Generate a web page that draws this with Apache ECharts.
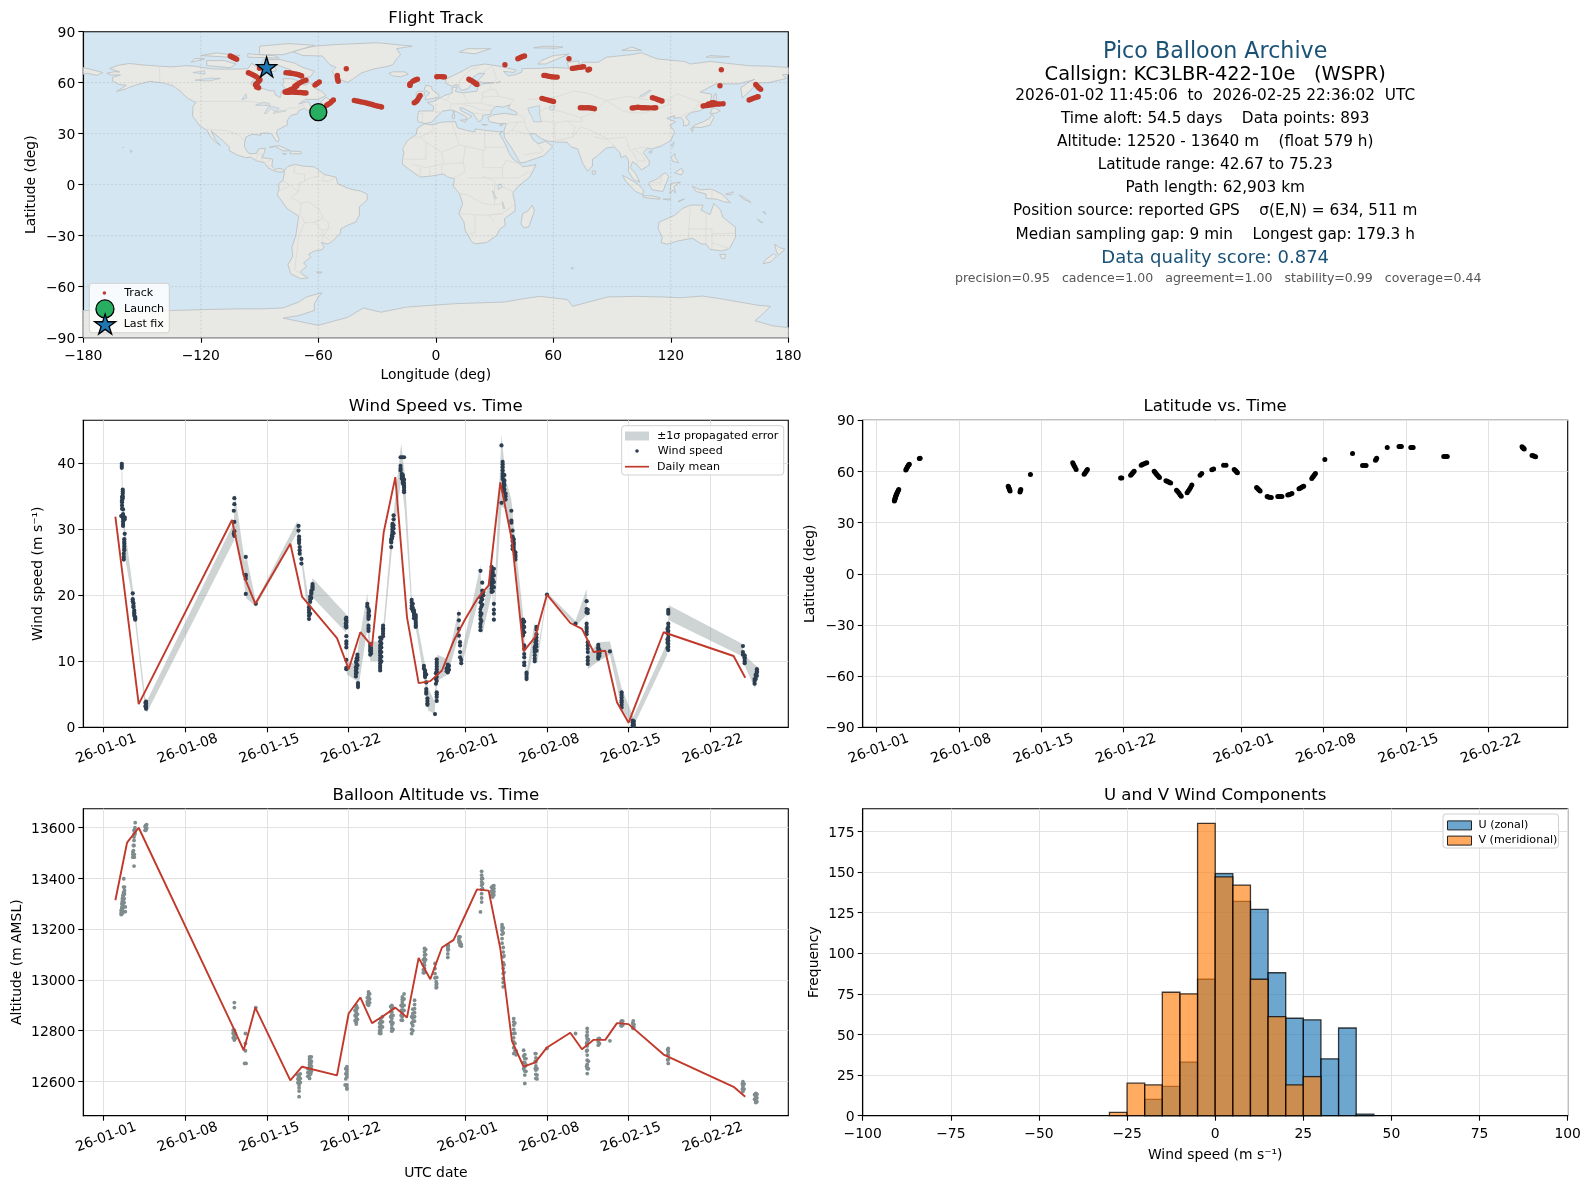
<!DOCTYPE html>
<html><head><meta charset="utf-8">
<script src="https://cdn.jsdelivr.net/npm/echarts@6/dist/echarts.min.js"></script>
<style>html,body{margin:0;padding:0;background:#fff}#c{width:1590px;height:1189px}</style>
</head><body><div id="c"></div>
<script>
const dayTicks=[0,7,14,21,31,38,45,52];
const dayTickLabels=['26-01-01','26-01-08','26-01-15','26-01-22','26-02-01','26-02-08','26-02-15','26-02-22'];
const meanDays=[1,2,3,11,12,13,16,17,20,21,22,23,24,25,26,27,28,29,30,31,32,33,34,35,36,37,38,40,41,42,43,44,45,48,54,55];
const windMean=[31.9,17.7,3.5,31.4,23,18.7,27.8,19.8,13.5,8.8,14.4,12.3,29.5,37.9,16.7,6.7,7,8.6,13.1,16.4,19.4,21.5,37.1,28.3,11.5,13.7,20.1,15.8,14.9,11.4,11.6,3.8,0.7,14.4,10.8,7.5];
const altMean=[13314,13541,13600,12823,12723,12891,12604,12658,12624,12868,12931,12830,12859,12891,12852,13087,13003,13128,13158,13257,13357,13352,13124,12759,12658,12675,12734,12792,12727,12764,12764,12830,12826,12706,12579,12540];
// each row: day, then values seen at that time
const windRows=[
[1.55,39.9,39.6,39.3],[1.63,36,35.7,35.4,35,34.7],[1.57,34.9,34.4,34.1,33.6,33.1],[1.5,32],[1.66,33,32.3,32,31.6,31.2,30.8,30.5],[1.8,31.8,31.5,29.3],[1.76,28.5,28.1,27.8,27.4,27,26.8],[1.72,26.3,25.8,25.4],
[2.49,20.3,19.4,19.1],[2.55,18.8,18.4,18.2],[2.62,17.7,17.4,17.2,16.9],[2.7,16.7,16.5,16.3],[3.63,3.9,3.6,3.3,3,2.8],[3.58,3.7,3.2],
[11.2,34.7,33.8,31.1,29.7,29],[11.15,32.8,29.3],[12.18,25.8,23.1,22.9,22.5,20.2],[13.04,18.7],
[16.7,30.5,29.8],[16.75,28.9,28.5,28.2,27.9],[16.8,27.3,26.8,26.3],[16.95,25.5,24.8],
[17.6,18.2,17.8,17.4,16.9,16.4],[17.7,19.8,19.4,19,17.2],[17.8,20.7,20.4,20.2,19.6],[17.9,21.7,21.4,21.2,20.9],
[20.8,16.6,16.2,15.9,15.4,15.1,13.8,13,12.6,12.1,10.2,9,8.8],[20.75,16.4,15.7,15.3],
[21.62,9.9,9.1,8.6,8.1,7.7],[21.68,10.4,9.6,8.9,8.3],[21.75,11,10.6,10.2,9.4],[21.8,6.7,6.4,6.1],
[22.6,18.7,18.3],[22.7,17.9,17.4,17,16.7,16.4,15.4,15,14.6],[22.75,17.6,16.9],[22.85,12.6,12.3,12,11.7,11.5,11],[22.92,12,11.6,11.2],
[23.7,13.6,13,12.4,12,11.6,11.3,10.9,10.5,10.1,9.7,9.3,9,8.6],[23.8,13.4,12.7,12.1,11.4,10.7,10],[23.95,15.4,15,14.9,14.6,14.2,13.8],
[24.85,32.1,31.5],[24.75,30.8,30.4,30,29.6,29.3,28.9],[24.85,30.6,30.1,29.4],[24.65,28.5,28.2,28,27.3],[24.7,29,28.6],
[25.45,40.9,39.6,39.2,38.9],[25.75,40.9],[25.6,40.9],[25.55,38.4,38.1,37.7],[25.65,37.9,37.6,37.4,37.1,36.9,38.2],[25.75,36.6,36.3,35.9,35.6,37.5,37],
[26.4,19.3,18.9,18.4,18],[26.5,18.7,18.1,17.6],[26.6,17.7,17.4,17.2,16.9,16.5],[26.75,16.4,16,15.7,15.4,15.2,17,16.7],
[27.45,9.3,8.9],[27.55,8.6,8.3,8.1,7.8,7.6],[27.65,6.8,5.8,5.4,5.1,8],[27.75,4.4,4,3.6,3.4],
[28.4,2],[28.55,10.3,9.9,9.6,9.2,8.8,8.4,8.1,7.6,7,5.3,5,4.6,4],[28.48,8.2,7.3,6.6],
[29.5,9.5,9.2,8.8,8.6,8.3],[29.6,9.3,8.7],[29.4,8.9,8.5],
[30.45,17.2,16.2,14.9,13.9],[30.55,12.9,12.4,11.4,10.6],[30.65,10.2,9.7],
[32.3,23.7,19.7,18.9,17.9,16.9,15.7,14.7,16.4,17.4,15.2],[32.45,21.9,20.7,20.2,19.4,18.6],[32.38,19.9,19.2,18.3,17.2,16.1],[32.55,20.5,20],
[33.25,24.3,23.7,23.3,23,22.6,22.2,21.8,21.5,21,20.5],[33.45,24,23,22,21.2,18.7,17.8,17.2,16.3],[33.35,23.5,22.4,21.4,20.6],
[34.1,42.7,34],[34.2,40.2,39.8,39.4,38.9,38.4,38,37.6],[34.3,37.2,36.9,36.5,36.1,35.7],[34.45,35.4,35,34.5],[34.35,38.2,37.4,36.7,36],
[34.95,32.8,31.3,31],[35.05,29.8,28.9],[35.15,28.5,28,27.7,27.3,26.9],[35.3,26.5,26.1,25.8,25.4],[35.05,28.7,28.2,27.5,27],
[35.95,16.3,15.9,15.4,15,14.6,14.2,13.9],[36.05,16,15.2,14.4,12.4,11.9,11.1,10.6,9.8,9.4],[36.25,8.3,8,7.6,7.3],
[36.95,12.1,11.8,11.4,10.9,10.4,10],[37.1,15.2,14.8,14.1,13.6,13.1,12.6,12.2,11.6],[37.02,13.4,12.9,12.4],
[38,20.1],[40.45,15.7],
[41.4,19.1,17.9,17.5,17.4,15.7,15.2,14.9,14.5,14.1],[41.5,17.8,17.3,12.9,12.4,11.9,11.4,10.6,10.1,9.6],
[42.4,12.5,12.1,11.9,11.5,11.1,10.7,10.4],[42.5,11.7,11.2,10.8],[43.4,11.5],
[44.4,5.3,4.9,4.5,4.1,3.8,3.4,3],[45.35,1,.7,.3],[45.45,.9,.5,.2],
[48.4,17.8,17.5,17.2,15.7,15.2,14.6,14.1,13.6,13.1,12.6,12.2,11.7],[48.33,14.9,14.3,13.3,12.8,12],
[54.8,12.3,11.4,11],[54.95,10.9,10.6,10.4,10,9.7],
[55.8,6.6,7,7.3],[55.9,7.8,7.3,8],[56,8.8,8.5,8.3,7.8],
];
// each row: day, then altitudes seen at that time
const altRows=[
[1.72,13399],[1.78,13366,13353,13340],[1.7,13366,13345,13334],[1.65,13334,13325,13315,13305,13295,13285],[1.6,13320,13310,13300,13290,13280,13270,13262],[1.5,13275,13265,13258],[1.55,13300,13285,13270],[1.85,13288,13269],[1.75,13320,13305],
[2.7,13620],[2.68,13600,13590,13583,13575],[2.6,13590,13575,13563,13550,13530],[2.5,13504,13495,13484],[2.55,13530,13510],[2.62,13495,13484],[2.6,13449],
[3.55,13605,13590],[3.6,13609,13600,13590],[3.68,13612,13598],
[11.2,12911,12891],[11.1,12802,12790,12772],[11.2,12802,12782,12763],[11.28,12790,12770],[12.15,12789,12750,12721],[12.08,12671],[12.2,12671],[13.04,12891],
[16.65,12625,12610,12595],[16.75,12625,12615,12605,12595,12586,12575,12562,12540],[16.85,12630,12612,12596],
[17.5,12650,12635,12620],[17.65,12697,12687,12677,12667,12658,12648,12638,12625,12612],[17.8,12697,12680,12660,12640],[17.75,12672,12650,12630],
[20.75,12650,12630,12610],[20.85,12658,12648,12638,12628,12618,12586,12575,12570],[20.7,12586],
[21.55,12880,12860,12840],[21.65,12900,12890,12881,12870,12861,12851,12841,12833,12826],[21.75,12890,12865,12845],
[22.6,12930,12915,12905],[22.7,12953,12943,12933,12925,12916,12908,12900],[22.8,12945,12925,12910],
[23.65,12830,12815,12800,12790],[23.75,12848,12838,12828,12818,12809,12799,12789],[23.9,12855,12835,12815],
[24.6,12895,12875,12855,12835],[24.7,12900,12887,12874,12861,12848,12835,12822,12810,12798],[24.8,12890,12860,12830,12805],
[25.5,12900,12880,12860,12842],[25.6,12933,12923,12914,12904,12894,12881,12868,12855,12841],[25.75,12945,12925,12900,12880],
[26.4,12855,12830,12805,12789],[26.5,12885,12868,12850,12835,12820,12800],[26.65,12920,12903,12887,12871,12855,12838],
[27.4,13080,13060,13040,13028],[27.5,13124,13111,13098,13085,13071,13058,13045,13029],[27.6,13120,13100,13080],
[28.4,13065,13045,13025,13008],[28.5,12993,12980,12969],[28.55,13010,12985,12972],
[29.5,13137,13127,13118,13103,13089],[29.55,13135,13120],[30.45,13170,13160,13150],[30.55,13170,13150,13143,13137],[30.65,13140,13133],
[32.3,13268],[32.4,13428,13413,13399,13386,13373,13357,13340,13323,13307],[32.48,13400,13380,13360],
[33.25,13365,13350,13335],[33.35,13370,13362,13353,13346,13340,13333,13327],[33.45,13372,13360,13348,13335],
[34.15,13218,13207,13196,13180,13163,13145],[34.25,13205,13185,13128,13110,13091,13068,13045,13025,13006,12990,12973],[34.32,13095,13060,13030],
[35.15,12848,12835,12822,12805,12789,12772,12756,12733,12710],[35.25,12830,12790,12750,12720],[35.35,12720,12705],
[36,12723,12700,12675,12650],[36.1,12706,12690,12674,12658,12641,12625,12592],[36.2,12690,12665,12640],
[37,12710,12680,12650],[37.05,12710,12693,12677,12661,12645,12628,12612],[37.15,12650,12625,12610],
[38,12730],[40.45,12789],[41.4,12780,12750,12720,12660],[41.45,12809,12795,12782,12769,12756,12740,12723,12704,12684,12667,12651,12631],[41.55,12765,12680,12650],[42.4,12769,12756,12743],[42.5,12770,12750],[43.4,12760],
[44.35,12835,12820],[44.4,12839,12829,12819],[44.5,12838,12822],[45.35,12830,12812],[45.4,12839,12824,12809],[45.45,12825,12815],[48.35,12725,12705,12685],[48.4,12730,12717,12704,12687,12671],[54.75,12590,12570],[54.8,12599,12589,12579,12569,12560],[54.9,12590,12570],[55.8,12548,12530],[55.9,12553,12543,12533,12525,12517],[56,12550,12535,12520],
];
// day, low, high of the error band
const bandRows=[[1.5,31,35],[1.55,38.3,41.4],[1.62,33,36.6],[1.8,26,30.5],[2.5,19,21],[2.7,15.8,17.6],[3.55,2.8,4.6],[3.7,2.2,4],[11.15,28.2,31],[11.25,30,35.4],[12.1,21,25],[12.2,19.6,26.2],[13.04,18.3,19.1],[16.6,29.5,31.2],[17,24.2,26],[17.6,15.7,19],[17.9,19.7,22.6],[20.75,14.4,17.2],[20.85,8,10],[21.7,7,9.5],[21.8,5.5,12],[22.6,15,20.3],[22.85,10,13],[23.7,10,13],[24,13.5,16],[24.7,26.8,30],[25.5,37.5,43],[25.8,33,38.5],[26.4,17.5,20],[26.8,14.5,16.5],[27.5,7,10],[27.8,2.6,6],[28.35,2,4],[28.6,7,11],[29.5,8,10.3],[30.45,14,18],[30.65,9,11],[32.3,20.5,24.6],[32.45,14,17],[33.3,20.5,25.3],[33.45,15.5,18],[34.1,33.5,44.3],[34.5,33,37.3],[34.95,28.2,34.5],[35.3,24.5,27.8],[35.95,13,17.2],[36.25,6.8,8.3],[36.95,12.5,16],[37.15,9.5,11],[38,19.9,20.4],[40.45,15.3,16.1],[41.4,17,21],[41.5,8.8,11],[42.4,10,12.9],[43.4,11,13],[44.4,2.8,6],[45.4,0.1,1.6],[48.3,10.9,12.8],[48.45,16.2,18.5],[54.7,10.8,12.7],[54.9,9.5,11],[55.8,6,9.5],[56,6.5,9.3]];
const latPoints=[[1.53,42.7],[1.56,43.3],[1.58,43.8],[1.6,44.4],[1.62,44.9],[1.65,45.5],[1.68,46],[1.7,46.5],[1.73,47],[1.77,47.5],[1.8,48],[1.85,48.7],[1.9,49.4],[2.5,60.8],[2.55,61.5],[2.6,62.2],[2.65,62.8],[2.7,63.4],[2.75,63.9],[2.8,64.3],[3.65,67.6],[3.72,67.7],[11.2,51.4],[11.24,50.7],[11.28,50],[11.32,49.3],[11.36,48.6],[12.2,48],[12.23,48.7],[12.27,49.4],[13.09,58.2],[16.68,65.1],[16.74,64.3],[16.8,63.4],[16.88,62.4],[16.97,61.2],[17.65,58.4],[17.72,59],[17.8,59.8],[17.87,60.5],[17.93,61.2],[20.75,56.1],[20.85,56.2],[21.6,57.8],[21.68,58.4],[21.75,59],[21.82,59.6],[21.9,60.2],[22.5,63.7],[22.6,64.1],[22.7,64.4],[22.85,64.8],[22.97,65.1],[23.6,60.2],[23.68,59.5],[23.75,58.8],[23.82,58.2],[23.9,57.6],[23.98,57],[24.05,56.5],[24.6,54.5],[24.7,54.2],[24.8,54],[24.9,53.6],[25,53.3],[25.5,49],[25.6,48.2],[25.7,47.4],[25.8,46.4],[25.9,45.5],[26.4,47.5],[26.5,48.5],[26.6,49.6],[26.7,50.8],[26.8,52],[27.5,57.8],[27.64,58.8],[28.5,61],[28.65,61.4],[29.5,63.7],[29.7,63.7],[30.4,61.2],[30.48,60.7],[30.55,60.2],[30.62,59.7],[30.67,59.2],[32.3,50.6],[32.38,50.1],[32.45,49.6],[32.52,49.1],[32.6,48.6],[33.2,45.3],[33.3,45.1],[33.4,44.9],[33.55,44.8],[34.1,45.3],[34.2,45.3],[34.3,45.3],[34.45,45.3],[34.95,46.2],[35.05,46.4],[35.15,46.7],[35.3,47.1],[35.9,49.8],[36,50.2],[36.1,50.6],[36.2,51],[36.3,51.4],[36.99,55.9],[37.07,56.7],[37.15,57.4],[37.22,58.1],[37.3,58.8],[38.1,67],[40.45,70.6],[41.3,63.5],[41.45,63.5],[41.6,63.5],[42.4,66.6],[42.45,67],[42.5,67.8],[43.4,74.1],[44.4,74.7],[44.5,74.7],[44.6,74.7],[45.4,74.1],[45.5,74.1],[45.6,74.1],[48.2,68.8],[48.35,68.8],[48.5,68.8],[54.85,74.5],[54.9,74.1],[54.95,73.8],[55,73.4],[55.03,73.1],[55.7,69.4],[55.8,69.2],[55.9,68.9],[56,68.6]];
const trackPoints=[[-105,75.7],[-104.4,75.4],[-103.8,75],[-103.2,74.7],[-102.5,74.3],[-101.7,73.8],
[-95.7,65.9],[-95,65.5],[-94,65],[-93,64.4],[-92,63.8],[-91,63],[-90,62],[-89.8,61.6],[-90.4,60.8],[-91,60],[-91.5,59.5],[-92,59],[-91.8,58.5],[-91.6,58],[-91.5,57.5],[-90.5,57],
[-90,68.5],[-88,68.8],[-86.4,69.2],
[-76.5,65.9],[-75.5,65.8],[-74.5,65.7],[-74,65.6],[-73,65.4],[-72,65.2],[-71,65],[-70,64.7],[-69,64.3],[-68.5,64],
[-72,58],[-71,58.8],[-70,59.5],[-69,60.2],[-68,60.8],[-67,61.2],[-66.3,61.5],
[-77,54.5],[-76,55],[-75,55.5],[-74,56],[-73,56.5],[-72,57.2],[-71,58],[-76,54.3],[-75,54.4],[-74,54.5],[-73,54.5],[-72,54.4],[-71,54.3],[-70,54.2],[-69,54.2],[-68,54.1],[-67,54],[-66.3,54],[-75,54.9],[-73.5,55],[-72,55],
[-61.7,58.6],[-61,59.2],[-60.5,59.6],[-59.5,60.4],
[-55.7,46.7],[-55,47.3],[-54,48],[-53.2,48.9],[-52.3,49.8],
[-41.6,49.6],[-40.5,49.3],[-39.5,49.1],[-38.5,48.8],[-37.5,48.6],[-36.5,48.4],[-35.5,48.1],[-34.5,47.8],[-33.5,47.5],[-32.5,47.2],[-31.5,46.8],[-30.5,46.5],[-29.5,46.2],[-28.5,46],[-27.7,45.7],
[-50.3,64.3],[-50.3,63.5],[-50.2,62.5],[-50,61.6],[-49.8,60.8],
[-45.7,68.2],
[-13.2,58.4],[-13.3,59],[-13,59.5],[-11.8,60.8],[-11,61.3],[-10.2,61.7],[-9.4,62],
[-11,48.2],[-10.2,48.8],[-9.5,49.5],[-9,50.5],[-8.5,51.5],[-8,52.5],
[0.5,63.5],[1.5,63.6],[2.5,63.6],[3.5,63.5],[4.4,63.4],
[16.9,62],[17.7,61.5],[18.5,61],[19.3,60.4],[20,59.8],[20.5,59.4],[21,59],
[35.3,70.6],
[41.9,74.1],[42.7,74.6],[43.5,75],[44.4,75.4],[45.3,75.7],
[55.2,64.3],[56,64.2],[57,64],[58,63.7],[59,63.5],[60,63.4],[61,63.3],[62,63.3],
[54.2,50.8],[55,50.5],[56,50.2],[57,49.9],[58,49.6],[59,49.3],[60.1,49],
[68,74.1],
[69.7,68.4],[70.6,68.6],[71.5,68.7],[72.5,68.9],[73.5,69],[74.5,69.2],[75.5,69.4],
[77.7,67.5],[78.2,67.8],[78.5,68],
[73.8,45.3],[75,45.3],[76,45.2],[77,45.3],[78,45.3],[79,45.1],[80,45],[81,44.7],
[100.3,45.1],[101.5,45.3],[103,45.6],[104,45.5],[105,45.3],[106,45.3],[107,45.3],[108,45.2],[109,45.2],[110.5,45.2],[111.5,45.2],[112.3,45.3],
[110.6,51.2],[111.5,50.9],[112.5,50.5],[113.3,50.1],[114,49.8],[115,49.4],[115.5,49.2],
[136.5,46.3],[137.5,46.5],[138.5,46.6],[139.5,46.8],[140.5,47],[141.3,47.1],[142,47.3],[143,47.4],[144,47.4],[145,47.5],[146.7,47.6],[139,47.3],[140,47.6],[141,48.2],[142,48.2],[143,47.8],
[145.8,67.6],
[145.1,58.2],
[160,49.8],[161,50.3],[162,50.8],[163,51.2],[164,51.6],[164.6,51.8],
[163.4,59],[163.9,58.3],[164.5,57.5],[165.2,56.8],[165.9,56.1]];
const launchPoint=[[-60,42.67]];
const lastFixPoint=[[-86.4,69.2]];
const histEdges=[-30,-25,-20,-15,-10,-5,0,5,10,15,20,25,30,35,40,45];
const uCounts=[0,0,10,18,33,84,149,132,127,88,60,59,35,54,1];
const vCounts=[2,20,19,76,75,180,147,142,84,61,19,24,0,0,0];
const landPolys=[
[[-168,65.6],[-164,66.5],[-161.5,66.3],[-163.5,67.2],[-166.5,68.4],[-162,70.3],[-156.5,71.3],[-150,70.5],[-141,69.7],[-135,69.3],[-128,70],[-124,69.8],[-115,68.2],[-108,68],[-102,68],[-96,68.2],[-94,71.5],[-92,69.7],[-88,68.7],[-85,69.7],[-82,69],[-81.5,67],[-86,66],[-88,64.2],[-92.5,62.5],[-94.5,59.5],[-92.5,57],[-88,56.5],[-85,55.3],[-82.3,55.2],[-82,52.9],[-79.5,51.3],[-79,52.5],[-79,54.7],[-76.7,56.5],[-78.5,58.8],[-77.5,60.5],[-78,62.4],[-73.5,62.3],[-70,61],[-69.5,58.8],[-66,58.8],[-64.5,60.3],[-61.5,56.5],[-58,54.8],[-56,52.5],[-60,50.2],[-66.5,50.2],[-70,47.5],[-65,49],[-64.5,47.5],[-64,46],[-61,45.5],[-65.5,43.6],[-67,45],[-70,43.7],[-70.6,41.7],[-74,40.7],[-75.5,38.5],[-76,36.9],[-75.6,35.3],[-78,33.9],[-81,32],[-81.4,30.5],[-80,26.8],[-80.5,25.2],[-81.8,26],[-82.8,28],[-84,30],[-86,30.4],[-89.5,30.2],[-89.3,29.1],[-93.8,29.7],[-97,28],[-97.6,25],[-97.8,22.4],[-95.9,18.8],[-94.5,18.2],[-91.5,18.5],[-90.5,21],[-87,21.5],[-87.7,18.5],[-88.7,15.9],[-83.3,15],[-83.7,11],[-82.2,9],[-79.5,9.6],[-77.3,8.5],[-78,7.5],[-80.3,7.5],[-83,8.3],[-85.7,10],[-87.6,13],[-91.5,14],[-94.5,16.2],[-97,15.9],[-101.5,17.5],[-105.5,20],[-105.3,22],[-108,25.2],[-112.5,29.5],[-114.7,31.7],[-112.5,26.5],[-110,23],[-112,24.7],[-115,28],[-116.8,32],[-120.5,34.5],[-122.5,37.7],[-124.2,40.3],[-124,46],[-122.5,48.3],[-127,51],[-130,54.5],[-134,58],[-139,59.8],[-146,60.8],[-151,59.3],[-153.5,58.5],[-158,56.5],[-163,54.8],[-158,58.5],[-162,59],[-165,61],[-165,63.2],[-161,64.5],[-166,64.6]],
[[-73,78.2],[-68,76],[-58,75.7],[-54,70.5],[-51,69],[-53,66.5],[-50.5,62.5],[-45,60.2],[-42.5,62],[-38,65.7],[-32,68],[-25,69.5],[-22,70.5],[-20,74],[-18,76.5],[-20,80],[-12,81.5],[-30,83.5],[-50,82.5],[-62,81.5],[-68,80]],
[[-80,73.7],[-72,71.5],[-68,69],[-62,66.8],[-64,63.5],[-68,62.7],[-72,64],[-78,65],[-74,67.5],[-80,70],[-89,71],[-88,73.5]],
[[-117,70],[-105,68.8],[-102,71],[-108,73],[-117,73]],[[-125,72],[-118,74],[-123,74.3]],[[-90,76.5],[-78,76.5],[-62,82],[-75,83],[-90,81.5]],[[-96,75],[-80,74.5],[-82,75.8],[-96,77]],[[-120,76],[-106,75],[-100,76],[-112,77.5]],
[[-59,47.7],[-53,46.7],[-53,49],[-56,51.5],[-58,49.5]],[[-24,65.5],[-22,64],[-18,63.5],[-14,65],[-16,66.4],[-22,66.4]],[[-85,22],[-80,23],[-74.3,20],[-78,19.9],[-82,22.5]],[[-74,19.8],[-69,19.5],[-68.5,18.3],[-74.3,18.1]],[[-78.3,18.4],[-76.3,18.1],[-77.5,17.8]],[[-159.8,22.2],[-159.3,21.9],[-159.6,21.8]],[[-156,20.2],[-155,19.6],[-155.8,19]],
[[-72,12],[-68,11],[-62,10.5],[-57,6],[-51,4.5],[-50,0.5],[-44,-2.5],[-38.5,-3.7],[-35,-5.5],[-35,-9],[-39,-13],[-39,-18],[-41,-22],[-45,-23.8],[-48.5,-26],[-48.7,-28.5],[-53,-33.5],[-55,-34.9],[-58.5,-34],[-57,-36.5],[-58,-38.3],[-62,-39],[-65,-41],[-63.8,-42.5],[-67.5,-46],[-66,-48],[-69,-51],[-68.3,-52.5],[-65.2,-54.8],[-69,-55.3],[-74,-52.5],[-75.5,-47],[-73,-42],[-73.5,-37],[-71.5,-30],[-70,-18.5],[-76,-14],[-81,-6],[-80,-2.5],[-80.3,0.5],[-78,2.5],[-77.3,7],[-77.3,8.5],[-75.5,10.7]],
[[-6,35.8],[-2,35.2],[3,36.8],[10,37.2],[11,33.5],[15.5,32],[20,31],[20,32.8],[25,32],[32,31.2],[34.3,31.3],[32.5,30],[35.5,24],[37.2,19],[39.5,15],[43.3,12],[44.5,10.5],[51.2,11.8],[48,4.5],[42,-1],[39.3,-5],[40.5,-11],[40.5,-15.5],[35,-20],[35.5,-24],[32.8,-26],[31,-30],[26,-34],[20,-34.8],[18.3,-33.5],[15,-27],[14.4,-22],[11.8,-17],[13.7,-11],[12,-5],[9,-1],[9.5,3.5],[6,4.5],[4,6.3],[-3,5],[-8,4.5],[-13,8.5],[-17,12],[-17,15],[-16.3,19],[-17,21],[-14.5,26],[-10,29.5],[-9.5,33]],
[[49.3,-12],[50.4,-15.5],[47.5,-24.7],[45,-25.5],[43.5,-23],[44.3,-17],[47,-15.5]],
[[-9,37],[-9.4,38.7],[-8.8,43.3],[-1.5,43.4],[-1,46],[-4.5,48.5],[-1.5,48.8],[2,51],[4.5,52.5],[8.5,54],[8.3,57],[10.8,57.5],[10,54.8],[14,54],[18.5,54.7],[21,55],[21.5,57.5],[24,59.3],[30,60],[24,60],[21.3,61],[25,65.5],[22,65.5],[17.5,62],[18.8,60],[16.5,56.5],[13,55.4],[11,59],[8,58],[5.3,59.5],[5,62],[13,66.5],[18,69.7],[25,71],[31,70],[41,67.5],[40,66],[34.5,66.7],[37,64],[40.5,64.7],[44,66.3],[44,68.3],[54,68.5],[60,69],[68,68.5],[67,72],[73,72.8],[73,68],[75,72],[83,72],[87,75],[100,76.5],[105,77.6],[113,74],[127,72.5],[130,71],[140,72.5],[160,70],[170,69.7],[180,68.9],[180,65],[177,64.7],[179,62.5],[170,60],[163.5,59.8],[162,57],[156.5,51],[155.7,57],[160,60.5],[163,62],[155,59.3],[143,59.3],[135,54.5],[141,53.2],[140,48],[135,43.5],[130.5,42.5],[127.5,39.8],[129.5,37],[129,35.2],[126.5,34.5],[126.5,37.5],[125,39.5],[121.5,39],[122,40.7],[118,39],[122.5,37],[119.5,35],[122,31],[120,26],[115,22.7],[110,21],[108,21.5],[106,19],[109,14],[109,11.5],[105,8.7],[102.5,12],[100.5,13.5],[99.3,10],[102,6.5],[104.2,1.5],[101,3],[98.3,8],[98.5,14],[97,17],[94.5,16],[94,19],[91,22.3],[87,21.5],[82,16.5],[80,15],[80,11],[77.5,8],[75,12.5],[73,19],[72.5,21],[69,22.3],[67,25],[61.5,25],[57,25.7],[54,27],[50.5,30],[48,30],[50,26],[51.5,25],[52,24],[56,25.5],[59.8,22.5],[55,17],[45,13],[43,13],[39,21],[35,28],[34.8,31.5],[36,36],[32,36],[27.5,37],[26.5,39.5],[29,41],[35,42],[41,41],[41.5,42.5],[37,45],[38,47],[34,45.5],[33,46],[30.5,46],[28.5,43.5],[28,41.5],[24,40.8],[23.5,38],[22,37],[19.5,41],[19,42],[14,45],[12.3,45.3],[13,43.5],[18.5,40.2],[16.5,39],[15.7,38],[15.5,40],[10.5,43],[8,44],[3.5,43.3],[0,39.5],[-2,36.8],[-5.5,36]],
[[-180,68.9],[-175,67.5],[-170,66],[-173,64.3],[-178,65.5],[-180,65]],
[[52,71],[56,71],[68,76.8],[60,76],[54,73]],[[12,78],[20,77],[28,80],[16,80]],[[50,80.5],[62,80.3],[65,81],[55,81.5]],[[95,79],[105,79],[100,81]],[[138,75],[146,75],[150,75.3],[140,76]],
[[-5.5,50],[1.5,51.3],[1.5,53],[-2,56],[-2,57.7],[-5,58.6],[-6,56],[-3,54],[-5,52]],[[-10,52],[-6,52.2],[-5.8,54.7],[-8.5,55.2],[-10,54]],[[12.5,38],[15.6,38.2],[15,36.7]],[[8.3,41],[9.7,41],[9.5,39],[8.5,39]],[[8.7,43],[9.5,43],[9.2,41.5]],[[23.5,35.5],[26.3,35.3],[24.8,34.9]],[[32.4,35],[34.5,35.6],[33.5,34.6]],
[[130.9,34],[135.5,33.6],[140,35],[142,39.5],[141,41.5],[139.8,39],[136.5,37],[132,35]],[[130,33],[131.5,33.7],[131,31.2]],[[140,42],[141.5,45.4],[145.3,43.5],[143,42]],[[142,46],[143.5,49],[143,54],[142,52]],[[120.2,23],[121.7,25.2],[120.9,22]],[[108.7,19.2],[110.5,20],[110,18.3]],
[[120.3,16],[122,18.5],[122.2,16],[124,13],[121,13.7]],[[122,7],[125.5,9.7],[126.5,7.5],[125.3,5.7]],[[79.8,8],[81.5,8],[81.5,6.3],[80,6]],[[95.3,5.6],[98,4],[103.5,0],[106,-3],[105.8,-5.9],[102,-4],[97,2]],[[105.5,-6.5],[110,-6.5],[114.5,-7.7],[114.4,-8.6],[106,-7.5]],[[109,1.5],[113,3.3],[117,7],[119,5],[117.7,1],[116,-4],[110.5,-3],[109,0]],[[119.5,-5.5],[120,0.7],[125,1.5],[121.5,-1],[122.5,-5],[121,-3]],[[131,-1],[135,-3],[141,-2.6],[146,-5.5],[150.5,-10.5],[147,-10],[143.5,-8.5],[138,-8],[138,-5.5],[133,-4]],[[116,-8.5],[120,-8.3],[119,-9]],[[124,-9.5],[127,-8.4],[124,-10.2]],[[148,-5.5],[152,-4.2],[151,-6]],[[155,-6],[158,-8],[160,-9.5],[161,-10.5],[157,-8.5]],
[[114,-22],[122,-18],[126,-14],[130,-12],[136.5,-12],[135.5,-15],[140,-17.5],[142,-11],[145.5,-15],[146.5,-19],[153,-25],[153,-31],[150,-37.5],[146,-39],[140,-38],[138,-35],[135.5,-34.8],[131,-31.5],[124,-33],[118,-35],[115,-34],[115.7,-31],[113.5,-26]],[[145,-41],[148,-41],[147.5,-43.5],[146,-43.5]],[[173,-35],[175.5,-37],[178.3,-38],[175,-41.5],[174,-39.5]],[[172.7,-40.5],[174,-42],[171,-45.5],[167,-46.5],[168.5,-44]],[[164,-20.2],[167,-22.3],[166,-22.3]],[[168,-16],[168.5,-17.5],[167,-16]],
[[-61,-51.3],[-58,-51.4],[-59.5,-52.3]],[[69,-48.7],[70.5,-49.2],[69.5,-49.6]],
[[-180,-74],[-150,-74.5],[-135,-74],[-120,-73.5],[-100,-73],[-88,-73],[-78,-72.5],[-70,-69],[-66,-66],[-58,-63.5],[-60,-66],[-62,-70],[-62,-74],[-70,-77],[-78,-78.5],[-60,-82.7],[-45,-78],[-37,-72.5],[-28,-75],[-15,-72],[-3,-71],[10,-70],[22,-69.5],[35,-69],[45,-67],[53,-65.7],[67,-67.5],[70,-71.5],[78,-69],[88,-66],[102,-65.7],[115,-66],[125,-66.5],[136,-65.5],[145,-67],[155,-69],[165,-71],[171,-71.5],[167,-76],[163,-80],[172,-83],[180,-84],[180,-90],[-180,-90]]
];
const lakePolys=[[[47,45],[53,46.5],[53,41],[54,37],[50,37],[49,40],[47.5,43]],[[-92,46.8],[-88,48.5],[-85,47.8],[-84.7,46.5],[-88,46.7]],[[-87.5,41.8],[-85.5,45.8],[-84,46],[-80,45],[-82,43],[-84,45],[-86.5,42]],[[-83,42],[-79,42.9],[-76.5,43.5],[-79.5,43.4],[-82.5,42.7]],[[-99,50],[-97,53.5],[-96.5,51]],[[-123,61.5],[-115,62.7],[-110,62.5],[-116,61]],[[-124,66],[-118,67],[-118,65]],[[31.8,-2.8],[34,-1.5],[33.5,.4],[31.8,0]],[[29,-3.5],[30,-8.5],[31,-8]],[[34,-10],[35.2,-14],[34.5,-14]],[[58,46],[61,46.5],[60,43.7],[58.5,44]],[[104,52],[109,55.5],[110,55.5],[106,52]],[[74,46.7],[78,46.5],[76,45.5]],[[31,60],[33,61],[32,59.8]]];
const borderLines=[
[[-123,49],[-95,49],[-89,48],[-84,46.5],[-82.5,42.5],[-79,43],[-75,45],[-71,45.2],[-67.5,47],[-67,45]],[[-141,69.7],[-141,60.3],[-135,59],[-130,55]],[[-117,32.5],[-106.5,31.8],[-101,29.5],[-97.5,25.9]],[[-92,14.5],[-91,18],[-88.5,18]],[[-89,18],[-89,14],[-87,13]],[[-83.5,15],[-87,13]],[[-85.7,11],[-83.7,11]],[[-83,8.3],[-82.5,9.5]],
[[-72,12],[-72.5,7],[-67,6],[-67,2],[-70,1],[-70,-4]],[[-60,8.3],[-60,5],[-64,4],[-67,2]],[[-57,6],[-58,2],[-54,2.3],[-51,4.5]],[[-78,2.5],[-75,0],[-70,-4],[-74,-7.5],[-69,-11],[-69,-16],[-70,-18.5]],[[-80,-3.5],[-75,-1]],[[-69,-11],[-65,-10],[-60,-14],[-58,-18],[-58,-20],[-62,-22],[-67,-22.5],[-69,-18]],[[-58,-20],[-55,-22],[-54.5,-25.5],[-58,-27],[-62,-22]],[[-54.5,-25.5],[-57.5,-30],[-53,-33.5]],[[-58,-27],[-58,-34]],[[-67,-22.5],[-70,-30],[-71,-40],[-72,-50],[-68.3,-52.5]],
[[-8,28],[-13,28],[-17,21]],[[-2,35],[-1,32],[-8,28],[-5,25],[3,19],[12,23.5],[10,30],[8,37]],[[12,23.5],[25,20],[25,32]],[[25,22],[36.8,22]],[[24,20],[24,10],[34,10],[34,4],[42,4],[48,8]],[[34,10],[36,14.5],[43,12]],[[3,19],[4,12],[14,13],[15,23]],[[14,13],[15,7.5],[9,4]],[[-12,12],[-5,10],[3,12]],[[-17,15],[-5,15],[-5,25]],[[-8,4.5],[-8,10]],[[-3,5],[-3,11]],[[3,6],[3,12]],[[16,4],[24,4],[34,4]],[[12,-5],[16,-6],[24,-11],[30,-12],[30,-4],[30,2],[24,5]],[[12,-17],[24,-18],[34,-17]],[[20,-18],[20,-28],[17,-29]],[[30,-22],[27,-18],[34,-17],[40.5,-11]],[[34,-1],[40,-4.5]],[[30,-12],[34,-11]],
[[-2,43.3],[3,42.5]],[[-9,42],[-6.5,42],[-7,37]],[[2,51],[6,49.5],[8,47.6],[7,44]],[[7,53.5],[6,50]],[[8,47.6],[13,47.5],[17,48],[23,48],[24,51.5],[23.5,54]],[[14,54],[15,51],[17,48]],[[14,47],[19,46],[22.5,44],[28.5,43.7]],[[19,42],[21,42],[26,41.5]],[[23,48],[30,46]],[[24,51.5],[32,52],[40,50],[38,47]],[[23.5,54],[28,56],[28,59.5]],[[32,52],[31,55.5],[28,56]],[[12,56],[12,61],[18,68],[22,69]],[[24,66],[29,70]],[[30,60],[31,63],[29,69.5]],
[[47,50],[60,51],[70,55],[77,54],[87,49.5]],[[87,49.5],[98,52],[108,50],[119,50],[123,53.5],[135,48.5],[131,43]],[[87,49.5],[96,43],[105,42],[112,44],[119,47],[119,50]],[[87,49.5],[80,42],[74,39.5],[75,37]],[[52,42],[56,45],[62,43.5],[70,41],[74,39.5]],[[54,37.5],[61,36.5],[67,37.5],[75,37]],[[61,36.5],[60.5,30],[61.5,25]],[[67,37.5],[71,34],[70,28],[62,26]],[[70,28],[74,34],[79,32],[88,27],[97,28],[98,24],[99,20],[101,21],[106,22],[108,21.5]],[[81,28],[88,26.5]],[[88,26],[92,22]],[[101,21],[105,18],[107,14],[103,14],[100,20]],[[103,14],[102.5,12]],[[48,30],[46,34],[44.8,39.5],[41.5,41.5]],[[36,36],[42,37],[44.8,37]],[[39,32],[48,29.5]],[[35,29.5],[39,32],[42,37]],[[52,24],[55,20],[52,18]],[[45,17.5],[52,19]],[[125,39.8],[128,42],[130.5,42.5]],
[[130,-11.5],[129,-31.5]],[[138,-16],[138,-35]],[[129,-26],[141,-26],[141,-38]],[[141,-29],[153,-28.5]],[[141,-34],[150,-37.5]],[[141,-2.6],[141,-9]],[[115,7],[115,1],[109,1.5]]
];
const titleFont='"DejaVu Sans"';
const gridBoxes=[
{left:83.3,top:31.7,width:705,height:306},{left:83.3,top:420.3,width:705,height:307},{left:862.7,top:420.3,width:705,height:307},
{left:83.3,top:808.7,width:705,height:307},{left:862.7,top:808.7,width:705,height:307}];
const infoLines=[
['Pico Balloon Archive',52.5,22.2,'#1a5276',1215.2],['Callsign: KC3LBR-422-10e   (WSPR)',75,19.4,'#000',1215.2],['2026-01-02 11:45:06  to  2026-02-25 22:36:02  UTC',96.5,15.3,'#000',1215.2],['Time aloft: 54.5 days    Data points: 893',119.5,15.3,'#000',1215.2],['Altitude: 12520 - 13640 m    (float 579 h)',142.5,15.3,'#000',1215.2],['Latitude range: 42.67 to 75.23',165.5,15.3,'#000',1215.2],['Path length: 62,903 km',188.5,15.3,'#000',1215.2],['Position source: reported GPS    \u03c3(E,N) = 634, 511 m',211.5,15.3,'#000',1215.2],['Median sampling gap: 9 min    Longest gap: 179.3 h',235,15.3,'#000',1215.2],['Data quality score: 0.874',258.5,18,'#1a5276',1215.2],['precision=0.95   cadence=1.00   agreement=1.00   stability=0.99   coverage=0.44',278.5,12.55,'#555',1218.2]];
const panelTitles=[['Flight Track',435.8,19],['Wind Speed vs. Time',435.8,407],['Latitude vs. Time',1215.2,407],['Balloon Altitude vs. Time',435.8,796],['U and V Wind Components',1215.2,796]];
const starPath='path://M50 0 L61.2 34.5 L97.6 34.5 L68.2 55.9 L79.4 90.5 L50 69.1 L20.6 90.5 L31.8 55.9 L2.4 34.5 L38.8 34.5 Z';
const mapLonTicks=[-180,-120,-60,0,60,120,180],mapLatTicks=[-90,-60,-30,0,30,60,90];
const wFlat=r=>r.flatMap(a=>a.slice(1).map(v=>[a[0],v]));
const uminus=v=>String(v).replace('-','\u2212');
const base={fontFamily:titleFont,fontSize:13.9,color:'#000'};
function axisCommon(g,ticks,fmt,extraLabel){return {gridIndex:g,type:'value',axisLine:{show:true,onZero:false,lineStyle:{color:'#000',width:1.1}},axisTick:{show:true,length:5,lineStyle:{color:'#000',width:1.1},customValues:ticks},axisLabel:Object.assign({customValues:ticks,formatter:fmt||uminus,margin:12,hideOverlap:false},base,extraLabel||{}),splitLine:{show:true,lineStyle:{color:'#e2e2e2',width:1}},nameTextStyle:{fontFamily:titleFont,fontSize:13.9,color:'#000'},nameLocation:'middle'};}
const dayFmt=v=>dayTickLabels[dayTicks.indexOf(v)]||'';
function timeX(g,min,max,name){return Object.assign(axisCommon(g,dayTicks,dayFmt,{rotate:20,align:'center',verticalAlign:'top',margin:15}),{min,max,name:name||'',nameGap:51});}
function yAx(g,min,max,ticks,name,gap){return Object.assign(axisCommon(g,ticks,v=>'{t|'+uminus(v)+'}',{margin:8,rich:{t:{fontFamily:titleFont,fontSize:13.9,color:'#000',padding:[3,0,0,0]}}}),{min,max,name,nameGap:gap,nameRotate:90});}
const xAxes=[
Object.assign(axisCommon(0,mapLonTicks),{min:-180,max:180,name:'Longitude (deg)',nameGap:31,splitLine:{show:false}}),
timeX(1,-1.75,58.69),timeX(2,-1.16,58.73),timeX(3,-1.75,58.69,'UTC date'),
Object.assign(axisCommon(4,[-100,-75,-50,-25,0,25,50,75,100]),{min:-100,max:100,name:'Wind speed (m s\u207b\u00b9)',nameGap:33})];
const yAxes=[
Object.assign(yAx(0,-90,90,mapLatTicks,'Latitude (deg)',45),{splitLine:{show:false}}),
yAx(1,0,46.5,[0,10,20,30,40],'Wind speed (m s\u207b\u00b9)',38),
yAx(2,-90,90,mapLatTicks,'Latitude (deg)',45),
yAx(3,12465,13675,[12600,12800,13000,13200,13400,13600],'Altitude (m AMSL)',59),
yAx(4,0,189,[0,25,50,75,100,125,150,175],'Frequency',41)];
function polyItem(list,fill,stroke,lw){return function(params,api){const p=list[params.dataIndex].map(c=>api.coord(c));return {type:'polygon',shape:{points:p},style:{fill,stroke,lineWidth:lw}};};}
function idx(list){return list.map((_,i)=>[i]);}
function histItem(color){return function(params,api){const a=api.coord([api.value(0),api.value(2)]),b=api.coord([api.value(1),0]);return {type:'rect',shape:{x:a[0],y:a[1],width:b[0]-a[0],height:b[1]-a[1]},style:{fill:color,stroke:'rgba(0,0,0,0.75)',lineWidth:1.3}};};}
const histData=c=>c.map((n,i)=>[histEdges[i],histEdges[i+1],n]).filter(r=>r[2]>0);
const series=[
{type:'custom',name:'land',xAxisIndex:0,yAxisIndex:0,silent:true,clip:true,data:idx(landPolys),renderItem:polyItem(landPolys,'#e8e8e4','#bcc2c4',0.9)},
{type:'custom',name:'lakes',xAxisIndex:0,yAxisIndex:0,silent:true,clip:true,data:idx(lakePolys),renderItem:polyItem(lakePolys,'#d4e6f1','#bcc2c4',0.7)},
{type:'custom',name:'borders',xAxisIndex:0,yAxisIndex:0,silent:true,clip:true,data:idx(borderLines),renderItem:(params,api)=>({type:'polyline',shape:{points:borderLines[params.dataIndex].map(c=>api.coord(c))},style:{fill:'none',stroke:'#d9dbd8',lineWidth:0.8}})},
{type:'custom',name:'graticule',xAxisIndex:0,yAxisIndex:0,silent:true,clip:true,data:[...mapLonTicks.map(v=>[v,0]),...mapLatTicks.map(v=>[v,1])],renderItem:(params,api)=>{const v=api.value(0),lat=api.value(1)===1;const a=api.coord(lat?[-180,v]:[v,-90]),b=api.coord(lat?[180,v]:[v,90]);return {type:'line',shape:{x1:a[0],y1:a[1],x2:b[0],y2:b[1]},style:{stroke:'rgba(80,80,80,0.18)',lineWidth:0.8,lineDash:[2,2]}};}},
{type:'scatter',name:'Track',xAxisIndex:0,yAxisIndex:0,data:trackPoints,symbolSize:5.4,itemStyle:{color:'#c0392b',opacity:1},silent:true},
{type:'scatter',name:'Launch',xAxisIndex:0,yAxisIndex:0,data:launchPoint,symbolSize:17,itemStyle:{color:'#27ae60',borderColor:'#000',borderWidth:1.3,opacity:1},silent:true},
{type:'scatter',name:'Last fix',xAxisIndex:0,yAxisIndex:0,data:lastFixPoint,symbol:starPath,symbolSize:20,itemStyle:{color:'#1f77b4',borderColor:'#000',borderWidth:1.3,opacity:1},silent:true},
{type:'custom',name:'\u00b11\u03c3 propagated error',xAxisIndex:1,yAxisIndex:1,silent:true,clip:true,data:[[0]],itemStyle:{color:'#ccd4d5'},renderItem:(params,api)=>{const low=bandRows.map(r=>api.coord([r[0],r[1]])),high=bandRows.map(r=>api.coord([r[0],r[2]])).reverse();return {type:'polygon',shape:{points:low.concat(high)},style:{fill:'rgba(127,140,141,0.38)'}};}},
{type:'scatter',name:'Wind speed',xAxisIndex:1,yAxisIndex:1,data:wFlat(windRows),symbolSize:4.2,itemStyle:{color:'#2c3e50',opacity:1},silent:true},
{type:'line',name:'Daily mean',xAxisIndex:1,yAxisIndex:1,data:meanDays.map((d,i)=>[d,windMean[i]]),showSymbol:false,lineStyle:{color:'#c0392b',width:1.9},itemStyle:{color:'#c0392b'},silent:true},
{type:'scatter',name:'latitude',xAxisIndex:2,yAxisIndex:2,data:latPoints,symbolSize:5,itemStyle:{color:'#000',opacity:1},silent:true},
{type:'scatter',name:'altitude',xAxisIndex:3,yAxisIndex:3,data:wFlat(altRows),symbolSize:3.8,itemStyle:{color:'#7f8c8d',opacity:1},silent:true},
{type:'line',name:'altMean',xAxisIndex:3,yAxisIndex:3,data:meanDays.map((d,i)=>[d,altMean[i]]),showSymbol:false,lineStyle:{color:'#c0392b',width:1.9},silent:true},
{type:'custom',name:'U (zonal)',xAxisIndex:4,yAxisIndex:4,silent:true,data:histData(uCounts),encode:{x:[0,1],y:2},itemStyle:{color:'#6ca6cf'},renderItem:histItem('rgba(31,119,180,0.65)')},
{type:'custom',name:'V (meridional)',xAxisIndex:4,yAxisIndex:4,silent:true,data:histData(vCounts),encode:{x:[0,1],y:2},itemStyle:{color:'#ffa85e'},renderItem:histItem('rgba(255,127,14,0.65)')}
];
function legendRow(name,icon,x,y,w,h,pad,style){const top=h<5?y-4.8:y-h/2;return {show:true,z:11,selectedMode:false,orient:'vertical',left:x,top,padding:0,itemWidth:w,itemHeight:h,data:[{name,icon,itemStyle:style}],textStyle:{fontFamily:titleFont,fontSize:11.1,color:'#000',padding:[0,0,0,pad]}};}
const legends=[
legendRow('Track','circle',102.6,292.3,3.6,3.6,13,{color:'#c0392b',opacity:1}),
legendRow('Launch','circle',95.3,308.3,18,18,5,{color:'#27ae60',borderColor:'#000',borderWidth:1.3,opacity:1}),
legendRow('Last fix',starPath,94,324,21,21,3,{color:'#1f77b4',borderColor:'#000',borderWidth:1.3,opacity:1}),
legendRow('\u00b11\u03c3 propagated error','rect',625,435,24,9,3,{color:'#ccd4d5'}),
legendRow('Wind speed','circle',635.2,450.3,3.6,3.6,14,{color:'#2c3e50',opacity:1}),
legendRow('Daily mean','rect',625,466,24,1.7,3,{color:'#c0392b'}),
legendRow('U (zonal)','rect',1447,824.4,24,9,2,{color:'#6ca6cf',borderColor:'#222',borderWidth:1}),
legendRow('V (meridional)','rect',1447,839.6,24,9,2,{color:'#ffa85e',borderColor:'#222',borderWidth:1})];
const legendBoxes=[[89.3,283.3,80,49.5],[621.7,425.7,162,49.3],[1443,814,115.5,34]];
const titles=[
...panelTitles.map(t=>({text:t[0],left:t[1],top:t[2],textAlign:'center',textVerticalAlign:'middle',padding:0,textStyle:{fontFamily:titleFont,fontSize:16.6,fontWeight:'normal',color:'#000'}})),
...infoLines.map(t=>({text:t[0],left:t[4],top:t[1],textAlign:'center',textVerticalAlign:'middle',padding:0,textStyle:{fontFamily:titleFont,fontSize:t[2],fontWeight:'normal',color:t[3]}}))];
const chart=echarts.init(document.getElementById('c'),null,{renderer:'canvas'});
chart.setOption({animation:false,backgroundColor:'#fff',textStyle:{fontFamily:titleFont},title:titles,
grid:gridBoxes.map((b,i)=>Object.assign({show:true,borderColor:'#000',borderWidth:1.1,backgroundColor:i===0?'#d4e6f1':'#fff',containLabel:false},b)),
xAxis:xAxes,yAxis:yAxes,series,legend:legends,tooltip:{show:false},
graphic:legendBoxes.map(b=>({type:'rect',z:10,shape:{x:b[0],y:b[1],width:b[2],height:b[3],r:3},style:{fill:'rgba(255,255,255,0.82)',stroke:'#d0d0d0',lineWidth:1}}))});
</script></body></html>
